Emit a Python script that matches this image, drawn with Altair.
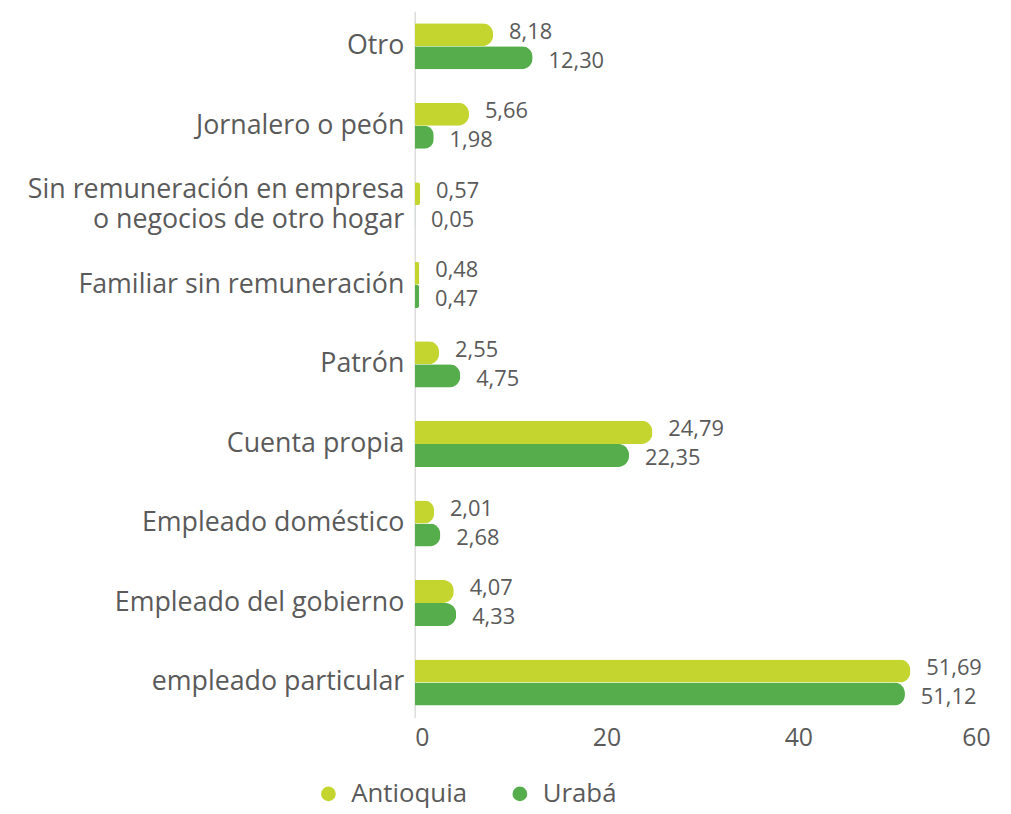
import altair as alt
import pandas as pd

categories = [
    "Otro",
    "Jornalero o peón",
    "Sin remuneración en empresa|o negocios de otro hogar",
    "Familiar sin remuneración",
    "Patrón",
    "Cuenta propia",
    "Empleado doméstico",
    "Empleado del gobierno",
    "empleado particular",
]
antioquia = [8.18, 5.66, 0.57, 0.48, 2.55, 24.79, 2.01, 4.07, 51.69]
uraba = [12.30, 1.98, 0.05, 0.47, 4.75, 22.35, 2.68, 4.33, 51.12]
series = ["Antioquia", "Urabá"]
colors = ["#C4D52F", "#55AE4B"]
x_ticks = [0, 20, 40, 60]

rows = []
for c, a, u in zip(categories, antioquia, uraba):
    for s, v in zip(series, [a, u]):
        rows.append({"cat": c, "serie": s, "valor": v,
                     "label": f"{v:.2f}".replace(".", ",")})
df = pd.DataFrame(rows)

FONT = "Open Sans"
TXT = "#5a5a5a"
xscale = alt.Scale(domain=[0, 60], nice=False)

y_enc = alt.Y("cat:N", sort=categories, title=None,
              scale=alt.Scale(paddingInner=0.42, paddingOuter=0.15),
              axis=alt.Axis(labelExpr="split(datum.label, '|')",
                            labelFontSize=27, labelFont=FONT, labelColor=TXT,
                            labelLineHeight=30, labelPadding=11, ticks=False,
                            labelOffset={"condition": {"test": "indexof(datum.label, '|') >= 0",
                                                       "value": -15},
                                         "value": 0},
                            domainColor="#dcdcdc", domainWidth=1.5,
                            labelLimit=500))
x_enc = alt.X("valor:Q", title=None, scale=xscale,
              axis=alt.Axis(values=x_ticks, grid=False, ticks=False, domain=False,
                            labelFontSize=25, labelFont=FONT, labelColor=TXT,
                            labelPadding=8))
color_enc = alt.Color("serie:N", sort=series,
                      scale=alt.Scale(domain=series, range=colors),
                      legend=alt.Legend(orient="none", legendX=-100, legendY=776,
                                        direction="horizontal", title=None,
                                        symbolType="circle", symbolSize=220,
                                        labelFontSize=26, labelFont=FONT,
                                        labelColor=TXT, columnPadding=40,
                                        labelOffset=10, symbolStrokeWidth=0))

base = alt.Chart(df).encode(
    y=y_enc,
    yOffset=alt.YOffset("serie:N", sort=series, scale=alt.Scale(domain=series)),
)

bars = base.mark_bar(cornerRadiusEnd=11).encode(x=x_enc, color=color_enc)
text_a = base.transform_filter(alt.datum.serie == "Antioquia").mark_text(
    align="left", baseline="middle", dx=16, dy=-3, fontSize=22,
    font=FONT, color=TXT).encode(x=alt.X("valor:Q", scale=xscale), text="label:N")
text_u = base.transform_filter(alt.datum.serie == "Urabá").mark_text(
    align="left", baseline="middle", dx=16, dy=3, fontSize=22,
    font=FONT, color=TXT).encode(x=alt.X("valor:Q", scale=xscale), text="label:N")

chart = (bars + text_a + text_u).properties(
    width=580, height=712,
    background="white",
    autosize=alt.AutoSizeParams(type="none"),
    padding={"left": 410, "top": 0, "right": 13, "bottom": 94},
).configure_view(stroke=None)

chart.save("out.html", embed_options={"renderer": "svg", "actions": False})
